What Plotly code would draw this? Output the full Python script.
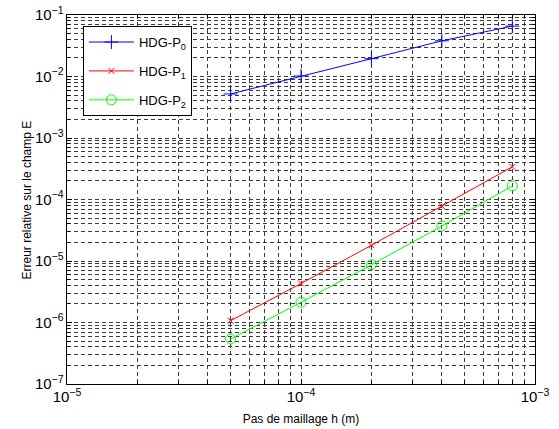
import plotly.graph_objects as go

h = [5e-5, 1e-4, 2e-4, 4e-4, 8e-4]
err_p0 = [5.2e-3, 1.02e-2, 1.95e-2, 3.8e-2, 6.6e-2]
err_p1 = [1.07e-6, 4.3e-6, 1.8e-5, 7.8e-5, 3.4e-4]
err_p2 = [5.4e-7, 2.13e-6, 8.7e-6, 3.7e-5, 1.66e-4]
names = ["HDG-P<sub>0</sub>", "HDG-P<sub>1</sub>", "HDG-P<sub>2</sub>"]
colors = ["#0000ff", "#ff0000", "#00ff00"]
symbols = ["cross-thin", "x-thin", "circle-open"]
y_title = "Erreur relative sur le champ E"
x_title = "Pas de maillage h (m)"

FONT = "Liberation Sans, Arial"

fig = go.Figure()
for i, (y, n, c, s) in enumerate(zip([err_p0, err_p1, err_p2], names, colors, symbols)):
    fig.add_trace(go.Scatter(
        x=h, y=y, name=n, mode="lines+markers", legendgroup=f"g{i}",
        line=dict(color=c, width=1),
        marker=dict(symbol=s, size=10 if s != "x-thin" else 6, color=c,
                    line=dict(color=c, width=1)),
    ))

grid_dash = "4px,3px"
axis_common = dict(
    type="log", showline=True, linecolor="black", linewidth=1, mirror="ticks",
    ticks="inside", ticklen=5, tickcolor="black", dtick=1, automargin=False,
    ticklabeloverflow="allow",
    exponentformat="power", showgrid=True, gridcolor="#3a3a3a", gridwidth=1,
    griddash=grid_dash, zeroline=False,
    tickfont=dict(family=FONT, size=12, color="black"),
    minor=dict(dtick="D1", ticks="inside", ticklen=3, tickcolor="black",
               showgrid=True, gridcolor="#3a3a3a", gridwidth=1, griddash=grid_dash),
)

fig.update_xaxes(range=[-5, -3],
                 title=dict(text=x_title, standoff=10,
                            font=dict(family=FONT, size=12, color="black")),
                 **axis_common)
fig.update_yaxes(range=[-7, -1], **axis_common)

fig.add_annotation(text=y_title, xref="paper", yref="paper",
                   x=-0.0855, y=0.5, xanchor="center", yanchor="middle",
                   textangle=-90, showarrow=False,
                   font=dict(family=FONT, size=12, color="black"))

fig.update_layout(
    template="none",
    width=559, height=429,
    margin=dict(l=67, r=24, t=15, b=45, autoexpand=False),
    paper_bgcolor="white", plot_bgcolor="white",
    showlegend=True,
    legend=dict(x=0.034, y=0.97, xanchor="left", yanchor="top",
                bgcolor="white", bordercolor="black", borderwidth=1,
                font=dict(family=FONT, size=13, color="black"),
                itemwidth=45, tracegroupgap=9),
    font=dict(family=FONT, color="black"),
)

fig.write_html("out.html", config={"displayModeBar": False},
               post_script="document.body.style.margin='0px';document.body.style.overflow='hidden';")
